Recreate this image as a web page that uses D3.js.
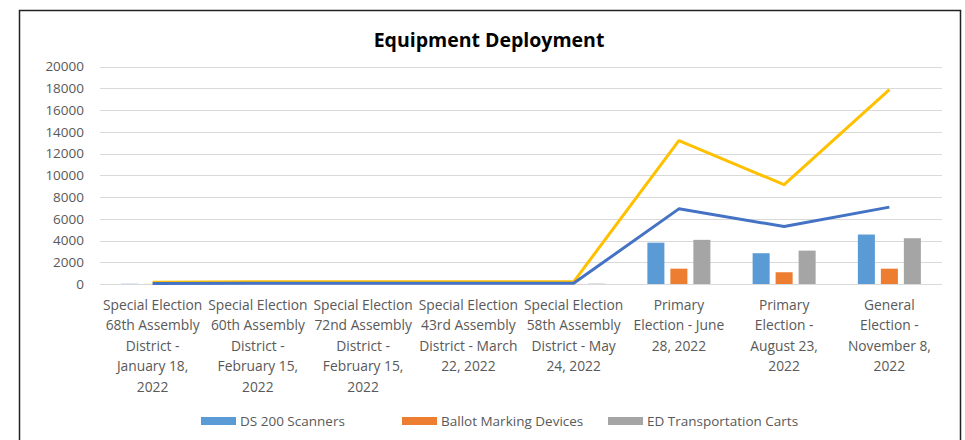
<!DOCTYPE html>
<html>
<head>
<meta charset="utf-8">
<script src="https://cdn.jsdelivr.net/npm/d3@7"></script>
<style>
  html, body { margin: 0; padding: 0; background: #fff; }
  svg { display: block; }
</style>
</head>
<body>
<svg id="chart" width="965" height="440"></svg>
<script>
// ---- data ----
const categories = [
  ["Special Election", "68th Assembly", "District -", "January 18,", "2022"],
  ["Special Election", "60th Assembly", "District -", "February 15,", "2022"],
  ["Special Election", "72nd Assembly", "District -", "February 15,", "2022"],
  ["Special Election", "43rd Assembly", "District - March", "22, 2022"],
  ["Special Election", "58th Assembly", "District - May", "24, 2022"],
  ["Primary", "Election - June", "28, 2022"],
  ["Primary", "Election -", "August 23,", "2022"],
  ["General", "Election -", "November 8,", "2022"]
];
const seriesNames = ["DS 200 Scanners", "Ballot Marking Devices", "ED Transportation Carts"];
const ds200Scanners = [20, 15, 15, 15, 20, 3800, 2830, 4550];
const ballotMarkingDevices = [10, 8, 8, 8, 10, 1410, 1080, 1410];
const edTransportationCarts = [10, 10, 10, 10, 30, 4060, 3070, 4210];
const lineYellow = [150, 200, 200, 200, 200, 13180, 9130, 17880];
const lineBlue = [50, 60, 60, 60, 60, 6910, 5280, 7070];
const yTicks = [0, 2000, 4000, 6000, 8000, 10000, 12000, 14000, 16000, 18000, 20000];
const title = "Equipment Deployment";

// ---- styles ----
const barColors = ["#5B9BD5", "#ED7D31", "#A5A5A5"];
const textColor = "#595959";
const font = "'Open Sans', sans-serif";

const svg = d3.select("#chart");

// frame
svg.append("path")
  .attr("d", "M19.5,445 L19.5,10.5 L960.5,10.5 L960.5,445")
  .attr("fill", "none").attr("stroke", "#222").attr("stroke-width", 1.5);

const x = d3.scaleBand().domain(d3.range(categories.length)).range([100, 942]).padding(0);
const y = d3.scaleLinear().domain([0, 20000]).range([284, 66.5]);
const xSub = d3.scaleBand().domain([0, 1, 2]).range([0, 63]).paddingInner(0.26).paddingOuter(0);

// gridlines
svg.append("g").selectAll("line").data(yTicks).join("line")
  .attr("x1", 100).attr("x2", 942)
  .attr("y1", d => Math.round(y(d)) + 0.5).attr("y2", d => Math.round(y(d)) + 0.5)
  .attr("stroke", "#D9D9D9").attr("stroke-width", 1);

// y axis labels
const yAxis = d3.axisLeft(y).tickValues(yTicks).tickSize(0).tickPadding(0).tickFormat(d3.format("d"));
const yg = svg.append("g").attr("transform", "translate(84,0)").call(yAxis);
yg.select(".domain").remove();
yg.selectAll("text").attr("fill", textColor).style("font-family", font).style("font-size", "13.5px");

// bars
const barSeries = [ds200Scanners, ballotMarkingDevices, edTransportationCarts];
barSeries.forEach((vals, si) => {
  svg.append("g").selectAll("rect").data(vals).join("rect")
    .attr("x", (d, i) => x(i) + (x.bandwidth() - 63) / 2 + xSub(si))
    .attr("width", xSub.bandwidth())
    .attr("y", d => y(d))
    .attr("height", d => y(0) - y(d))
    .attr("fill", barColors[si]);
});

// lines
const lineGen = d3.line().x((d, i) => x(i) + x.bandwidth() / 2).y(d => y(d));
svg.append("path").datum(lineYellow).attr("d", lineGen)
  .attr("fill", "none").attr("stroke", "#FFC000").attr("stroke-width", 3).attr("stroke-linejoin", "round");
svg.append("path").datum(lineBlue).attr("d", lineGen)
  .attr("fill", "none").attr("stroke", "#4472C4").attr("stroke-width", 3).attr("stroke-linejoin", "round");

// x labels
const xl = svg.append("g");
categories.forEach((lines, i) => {
  const t = xl.append("text")
    .attr("x", x(i) + x.bandwidth() / 2)
    .attr("y", 310)
    .attr("text-anchor", "middle")
    .attr("fill", textColor)
    .style("font-family", font).style("font-size", "13.8px");
  lines.forEach((ln, k) => {
    t.append("tspan").attr("x", x(i) + x.bandwidth() / 2).attr("y", 310 + k * 20.4).text(ln);
  });
});

// title
svg.append("text").attr("x", 489).attr("y", 47).attr("text-anchor", "middle")
  .attr("fill", "#000").style("font-family", font).style("font-weight", "bold").style("font-size", "19.5px")
  .text(title);

// legend
const legendX = [201, 402, 608];
const lg = svg.append("g");
seriesNames.forEach((name, i) => {
  lg.append("rect").attr("x", legendX[i]).attr("y", 417).attr("width", 35).attr("height", 8).attr("fill", barColors[i]);
  lg.append("text").attr("x", legendX[i] + 39).attr("y", 426).attr("fill", textColor)
    .style("font-family", font).style("font-size", "13.5px").text(name);
});
</script>
</body>
</html>
